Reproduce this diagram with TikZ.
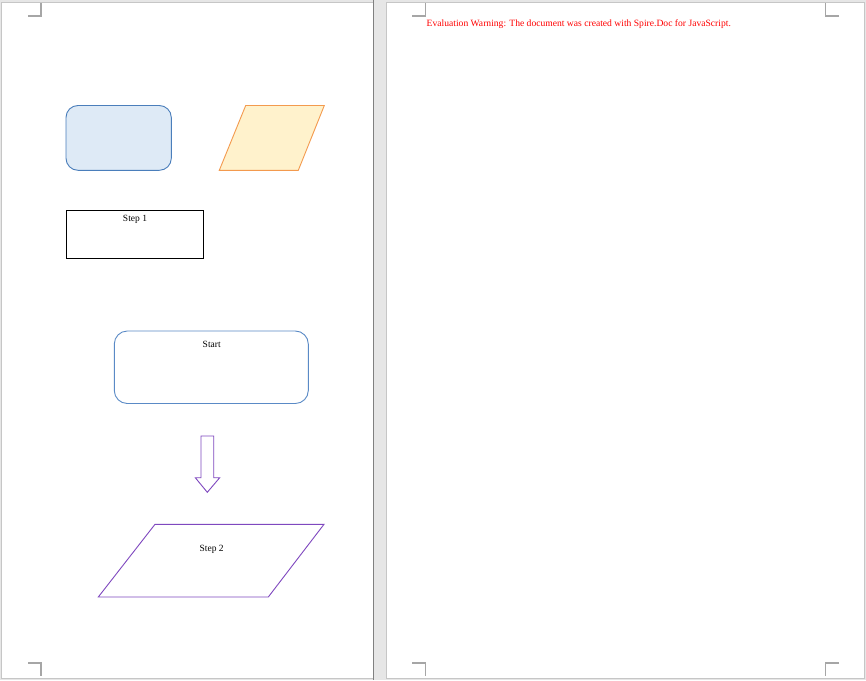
\documentclass[tikz,border=0pt]{standalone}
\usepackage{fontspec}
\setmainfont{Liberation Serif}
\definecolor{gapgray}{HTML}{E6E6E6}
\definecolor{edgegray}{HTML}{C6C6C6}
\definecolor{darkedge}{HTML}{808080}
\definecolor{markgray}{HTML}{A6A6A6}
\definecolor{blueline}{HTML}{4A7EBB}
\definecolor{bluefill}{HTML}{DEEAF6}
\definecolor{orangeline}{HTML}{F39A4E}
\definecolor{orangefill}{HTML}{FFF2CC}
\definecolor{startline}{HTML}{5A8AC6}
\definecolor{purpleline}{HTML}{7F48BF}
\definecolor{warnred}{HTML}{FF0000}
\tikzset{
  cornermark/.style={draw=markgray, line width=1.2pt},
  shapeline/.style={line width=0.9pt},
  lbl/.style={inner sep=0pt, font=\fontsize{9.5}{11}\selectfont},
  warn/.style={inner sep=0pt, text=warnred, font=\fontsize{9.6}{11}\selectfont}
}
\begin{document}
\begin{tikzpicture}[x=1pt,y=-1pt]
\useasboundingbox (0,0) rectangle (866,680);
% background and pages
\fill[gapgray] (0,0) rectangle (866,680);
\fill[white] (1,2) rectangle (373,678);
\fill[white] (386,2) rectangle (864,678);
\draw[edgegray, line width=0.8pt] (1,2) rectangle (373,678);
\draw[edgegray, line width=0.8pt] (386,2) rectangle (864,678);
\draw[darkedge, line width=1pt] (373.3,0) -- (373.3,680);
% corner marks
\draw[cornermark] (28,16) -- (41,16) -- (41,3);
\draw[cornermark] (28,663) -- (41,663) -- (41,676);
\draw[cornermark] (412,16) -- (425.5,16) -- (425.5,3);
\draw[cornermark] (412,663) -- (425.5,663) -- (425.5,676);
\draw[cornermark] (839,16) -- (825.5,16) -- (825.5,3);
\draw[cornermark] (839,663) -- (825.5,663) -- (825.5,676);
% warning text
\node[warn, anchor=base west] (warning) at (426.5,26) {Evaluation Warning: The document was created with Spire.Doc for JavaScript.};
% blue rounded rectangle
\draw[shapeline, draw=blueline, fill=bluefill, rounded corners=12pt] (66,105.5) rectangle (171.3,170.3);
% orange parallelogram
\draw[shapeline, draw=orangeline, fill=orangefill] (245.7,105.5) -- (324.3,105.5) -- (298.3,170.3) -- (219.3,170.3) -- cycle;
% Step 1 rectangle
\draw[line width=0.9pt, draw=black] (66.3,210.3) rectangle (203.7,258.3);
\node[lbl] (step1) at (135,219.5) {Step 1};
% Start rounded rectangle
\draw[shapeline, draw=startline, rounded corners=13pt] (114.3,331) rectangle (308.3,403.5);
\node[lbl] (start) at (211.7,344) {Start};
% block arrow
\draw[shapeline, draw=purpleline] (201,436) -- (213.7,436) -- (213.7,477.7) -- (219.7,477.7) -- (207.3,492.3) -- (195.3,477.7) -- (201,477.7) -- cycle;
% purple parallelogram
\draw[shapeline, draw=purpleline] (155,524.3) -- (324,524.3) -- (268.3,597) -- (98.3,597) -- cycle;
\node[lbl] (step2) at (211.7,549.3) {Step 2};
\end{tikzpicture}
\end{document}
